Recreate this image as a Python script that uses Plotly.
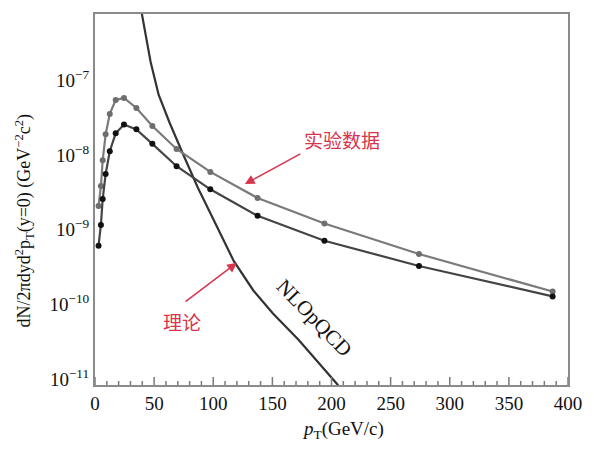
import math
import plotly.graph_objects as go

# Data
pt_data = [3, 5, 6.5, 9, 12.5, 17.5, 24.5, 35, 48.5, 69, 97.5, 137.5, 194, 274, 387]
upper_vals = [2.51e-9, 4.64e-9, 1.03e-8, 2.29e-8, 4.30e-8, 6.61e-8, 7.03e-8, 5.17e-8,
              2.96e-8, 1.46e-8, 7.19e-9, 3.21e-9, 1.46e-9, 5.70e-10, 1.79e-10]
lower_vals = [7.36e-10, 1.40e-9, 3.11e-9, 6.71e-9, 1.36e-8, 2.36e-8, 3.11e-8, 2.67e-8,
              1.71e-8, 8.57e-9, 4.20e-9, 1.85e-9, 8.58e-10, 3.94e-10, 1.54e-10]
nlo_pt = [37, 39.8, 47.0, 53.8, 63.0, 74.5, 87.0, 100.8, 117.3, 133.9, 150.5, 172.3, 191.9, 205.4, 208]
nlo_vals = [1.6e-6, 9.4e-7, 2.15e-7, 7.8e-8, 3.3e-8, 1.24e-8, 4.4e-9, 1.58e-9, 4.6e-10,
            1.85e-10, 9.1e-11, 4.0e-11, 1.74e-11, 1.0e-11, 8.5e-12]
y_major = [1e-11, 1e-10, 1e-9, 1e-8, 1e-7]
y_labels = ["10<sup>−11</sup>", "10<sup>−10</sup>", "10<sup>−9</sup>", "10<sup>−8</sup>", "10<sup>−7</sup>"]
x_major = [0, 50, 100, 150, 200, 250, 300, 350, 400]
x_labels = ["0", "50", "100", "150", "200", "250", "300", "350", "400"]

SERIF = "Liberation Serif, Times New Roman, serif"
RED = "#d8344c"
FRAME = "#8a8a8a"
TICK = "#7a7a7a"

yr = [-11, -6.027]
x_minor = [v for v in range(10, 400, 10) if v % 50 != 0]
y_minor = [m * 10.0 ** e for e in range(-12, -5) for m in range(2, 10)
           if yr[0] < math.log10(m * 10.0 ** e) < yr[1]]

fig = go.Figure()
fig.add_trace(go.Scatter(x=nlo_pt, y=nlo_vals, mode="lines",
                         line=dict(color="#333333", width=2.2), showlegend=False))
fig.add_trace(go.Scatter(x=pt_data, y=upper_vals, mode="lines+markers",
                         line=dict(color="#7a7a7a", width=2.2),
                         marker=dict(color="#6e6e6e", size=6), showlegend=False))
fig.add_trace(go.Scatter(x=pt_data, y=lower_vals, mode="lines+markers",
                         line=dict(color="#444444", width=2.2),
                         marker=dict(color="#111111", size=6), showlegend=False))

fig.update_layout(
    width=594, height=449,
    margin=dict(l=95, r=16, t=12, b=64),
    paper_bgcolor="white", plot_bgcolor="white",
    font=dict(family=SERIF, color="#111111", size=19),
    xaxis=dict(range=[0, 400], tickmode="array", tickvals=x_major, ticktext=x_labels,
               ticks="", showline=True, linecolor=FRAME, linewidth=2, mirror=True,
               showgrid=False, zeroline=False, tickfont=dict(size=19, family=SERIF)),
    yaxis=dict(type="log", range=yr, tickmode="array", tickvals=y_major, ticktext=y_labels,
               ticks="", showline=True, linecolor=FRAME, linewidth=2, mirror=True,
               showgrid=False, zeroline=False, ticklabelshift=-6,
               tickfont=dict(size=19, family=SERIF)),
)

# tick marks drawn from the tick value lists through the axes
for v in x_major + x_minor:
    L = 8 if v in x_major else 4
    fig.add_shape(type="line", xref="x", x0=v, x1=v, yref="paper", ysizemode="pixel",
                  yanchor=0, y0=0, y1=L, line=dict(color=TICK, width=1.5))
for v in y_major + y_minor:
    L = 14 if v in y_major else 8
    lv = math.log10(v)
    fig.add_shape(type="line", yref="y", y0=lv, y1=lv, xref="paper", xsizemode="pixel",
                  xanchor=0, x0=0, x1=L, line=dict(color=TICK, width=1.5))

def px_to_data(px, py):
    x = (px - 95) / (578 - 95) * 400
    ly = yr[0] + (385 - py) / (385 - 12) * (yr[1] - yr[0])
    return x, ly

def px_to_paper(px, py):
    return (px - 95) / (578 - 95), (385 - py) / (385 - 12)

# Axis titles
px, py = px_to_paper(23, 220)
fig.add_annotation(x=px, y=py, xref="paper", yref="paper", textangle=-90,
                   xanchor="center", yanchor="middle",
                   text="dN/2πdyd<sup>2</sup>p<sub>T</sub>(y=0) (GeV<sup>−2</sup>c<sup>2</sup>)",
                   showarrow=False, font=dict(size=18, family=SERIF, color="#111111"))
px, py = px_to_paper(348, 430)
fig.add_annotation(x=px, y=py, xref="paper", yref="paper",
                   xanchor="center", yanchor="middle",
                   text="<i>p</i><sub>T</sub>(GeV/c)",
                   showarrow=False, font=dict(size=19, family=SERIF, color="#111111"))

# 实验数据 label and arrow
tx, ty = px_to_data(347, 138)
fig.add_annotation(x=tx, y=ty, xref="x", yref="y", text="实验数据", showarrow=False,
                   font=dict(family="Noto Sans CJK SC", size=19, color=RED))
hx, hy = px_to_data(248, 183)
fig.add_annotation(x=hx, y=hy, xref="x", yref="y", ax=305 - 248, ay=152 - 183,
                   text="", showarrow=True, arrowhead=2, arrowsize=1.3, arrowwidth=1.5, arrowcolor=RED)

# 理论 label and arrow
tx, ty = px_to_data(184, 321)
fig.add_annotation(x=tx, y=ty, xref="x", yref="y", text="理论", showarrow=False,
                   font=dict(family="Noto Sans CJK SC", size=19, color=RED))
hx, hy = px_to_data(240, 262)
fig.add_annotation(x=hx, y=hy, xref="x", yref="y", ax=187 - 240, ay=302 - 262,
                   text="", showarrow=True, arrowhead=2, arrowsize=1.3, arrowwidth=1.5, arrowcolor=RED)

# NLOpQCD rotated label
tx, ty = px_to_data(319, 318)
fig.add_annotation(x=tx, y=ty, xref="x", yref="y", text="NLOpQCD", showarrow=False, textangle=46,
                   font=dict(family=SERIF, size=21, color="#111111"))

fig.write_html("out.html")
